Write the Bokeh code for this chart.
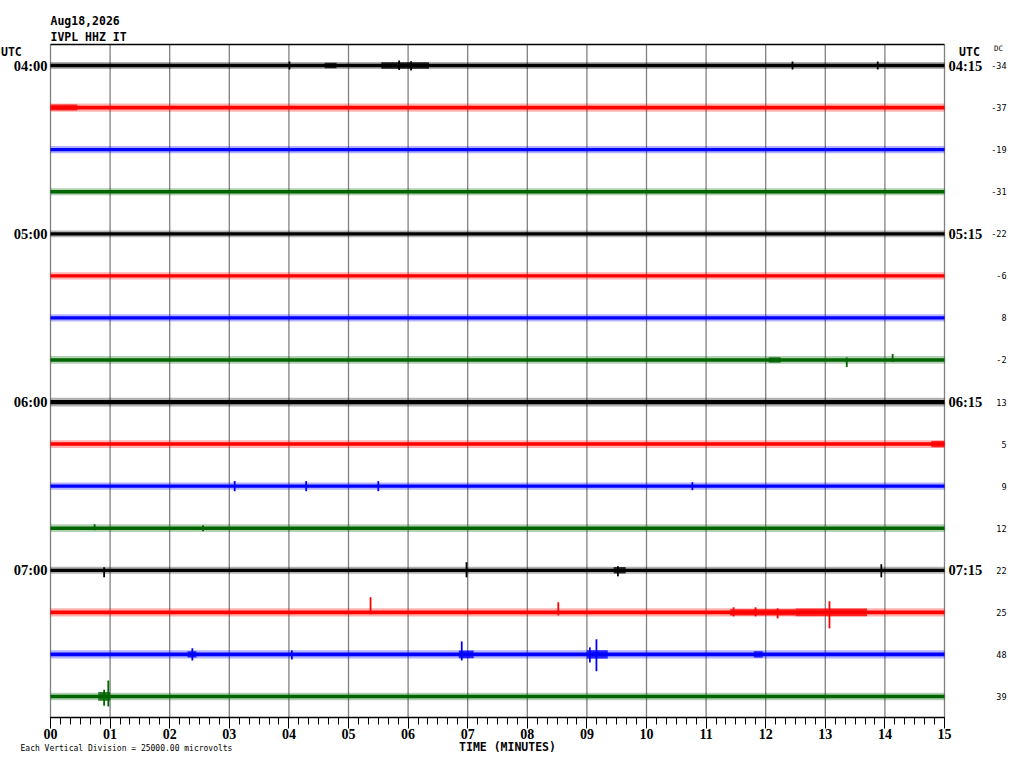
from bokeh.plotting import figure
from bokeh.models import SingleIntervalTicker, LinearAxis, Range1d, ColumnDataSource
from bokeh.core.properties import value
from bokeh.embed import file_html
from bokeh.resources import INLINE

# ---------------- data ----------------
TITLE_DATE = "Aug18,2026"
TITLE_STATION = "IVPL HHZ IT"
TRACE_COLORS = ["#000000", "#ff0000", "#0000ff", "#006400"]
LEFT_LABELS = ["04:00", "05:00", "06:00", "07:00"]
RIGHT_LABELS = ["04:15", "05:15", "06:15", "07:15"]
DC_VALUES = [-34, -37, -19, -31, -22, -6, 8, -2, 13, 5, 9, 12, 22, 25, 48, 39]
TICK_LABELS = ["00", "01", "02", "03", "04", "05", "06", "07",
               "08", "09", "10", "11", "12", "13", "14", "15"]
MINUTES_PER_LINE = 15
UV_PER_DIV = 25000.0
SCALE_NOTE = "Each Vertical Division = 25000.00 microvolts"
X_TITLE = "TIME (MINUTES)"

# background noise of each trace (microvolts): solid core and typical peaks
NOISE_UV = [1000, 1100, 1000, 1000, 950, 1000, 1000, 1050,
            1250, 1050, 1000, 1050, 950, 1100, 1100, 1000]
NOISE_PEAK_UV = [2100, 2400, 2100, 2100, 2000, 2100, 2100, 2300,
                 2600, 2300, 2100, 2300, 2100, 2400, 2400, 2200]

# bursts of stronger shaking: trace, start minute, end minute, half-amplitude (uV)
BURST_TRACE = [0, 0, 1, 9, 12, 13, 13, 14, 14, 14, 14, 15, 7]
BURST_T0 = [5.55, 4.60, 0.00, 14.78, 9.45, 11.40, 12.50, 2.30, 6.85, 9.00, 11.80, 0.80, 12.05]
BURST_T1 = [6.35, 4.80, 0.45, 15.00, 9.65, 12.50, 13.70, 2.45, 7.10, 9.35, 11.95, 1.00, 12.25]
BURST_UV = [1900, 1600, 1800, 1900, 1900, 1900, 2300, 1900, 2300, 2500, 1900, 2600, 1600]

# isolated spikes: trace, minute, upward and downward excursion (uV)
SPIKE_TRACE = [12, 12, 12, 12, 13, 13, 13, 14, 14, 14, 15, 7, 7, 10, 10, 10, 10, 11, 11,
               0, 0, 0, 14, 13, 13, 13, 0, 0, 14, 15]
SPIKE_T = [6.98, 13.94, 9.52, 0.90, 5.37, 8.52, 13.07, 6.90, 9.16, 2.38, 0.97, 13.36, 14.13,
           3.09, 4.29, 5.50, 10.77, 0.74, 2.56, 4.01, 12.45, 13.88, 4.05, 11.46, 11.83, 12.20,
           5.85, 6.05, 9.05, 0.90]
SPIKE_UP_UV = [4800, 3600, 2400, 1800, 9000, 6000, 6600, 7700, 9000, 3600, 9500, 1500, 3600,
               3000, 3000, 3000, 2400, 2400, 1800, 2400, 2400, 2400, 2400, 3000, 3000, 2400,
               3000, 2600, 4200, 4000]
SPIKE_DOWN_UV = [4200, 4200, 3600, 4200, 1200, 1800, 9500, 3600, 10000, 3600, 6000, 4200, 1200,
                 3000, 3000, 3000, 2400, 1200, 1800, 2400, 2400, 2400, 3000, 2400, 2400, 3600,
                 2600, 3000, 4800, 5500]

N_TRACES = len(DC_VALUES)


def center(i):
    return N_TRACES - 0.5 - i


def color(i):
    return TRACE_COLORS[i % len(TRACE_COLORS)]


# ---------------- figure ----------------
# the frame covers the whole canvas; 1 minute = 59.6 px, 1 trace row = 42.06 px
PX_X = MINUTES_PER_LINE / 894.0
PX_Y = N_TRACES / 673.0
W, H = 1008, 752
LEFT_PAD, TOP_PAD = 50, 44          # canvas pixels left of / above the trace area
x0 = -LEFT_PAD * PX_X
y1 = N_TRACES + TOP_PAD * PX_Y
p = figure(width=W, height=H, output_backend="svg", toolbar_location=None,
           x_range=Range1d(x0, x0 + W * PX_X), y_range=Range1d(y1 - H * PX_Y, y1),
           x_axis_location=None, y_axis_location=None,
           min_border=0, min_border_left=0, min_border_right=0,
           min_border_top=0, min_border_bottom=0)
p.outline_line_color = None
p.background_fill_color = "white"
p.border_fill_color = "white"
p.grid.visible = False

ax = LinearAxis(fixed_location=0, bounds=(0, MINUTES_PER_LINE),
                ticker=SingleIntervalTicker(interval=1, num_minor_ticks=6))
ax.major_label_overrides = {i: TICK_LABELS[i] for i in range(len(TICK_LABELS))}
ax.axis_line_color = "black"
ax.axis_line_width = 1.5
ax.major_tick_line_color = "black"
ax.minor_tick_line_color = "black"
ax.major_tick_out = 11
ax.major_tick_in = 0
ax.minor_tick_out = 7
ax.minor_tick_in = 0
ax.major_label_standoff = 0
ax.major_label_text_font = "Liberation Serif"
ax.major_label_text_font_style = "bold"
ax.major_label_text_font_size = "14px"
ax.major_label_text_color = "black"
p.add_layout(ax, "below")

# vertical minute lines and the top border
minutes = list(range(len(TICK_LABELS)))
p.segment(x0=minutes, y0=[0] * len(minutes), x1=minutes, y1=[N_TRACES] * len(minutes),
          line_color="#808080", line_width=1.3)
p.segment(x0=[0], y0=[N_TRACES], x1=[MINUTES_PER_LINE], y1=[N_TRACES],
          line_color="black", line_width=1.5)

rows = list(range(N_TRACES))
# outer (peak) noise envelope, drawn light, then the solid core
peak = ColumnDataSource(dict(
    left=[0] * N_TRACES, right=[MINUTES_PER_LINE] * N_TRACES,
    bottom=[center(i) - NOISE_PEAK_UV[i] / UV_PER_DIV for i in rows],
    top=[center(i) + NOISE_PEAK_UV[i] / UV_PER_DIV for i in rows],
    color=[color(i) for i in rows],
))
p.quad(left="left", right="right", bottom="bottom", top="top", color="color",
       line_width=0, alpha=0.3, source=peak)
core = ColumnDataSource(dict(
    left=[0] * N_TRACES, right=[MINUTES_PER_LINE] * N_TRACES,
    bottom=[center(i) - NOISE_UV[i] / UV_PER_DIV for i in rows],
    top=[center(i) + NOISE_UV[i] / UV_PER_DIV for i in rows],
    color=[color(i) for i in rows],
))
p.quad(left="left", right="right", bottom="bottom", top="top", color="color",
       line_width=0, source=core)

burst = ColumnDataSource(dict(
    left=BURST_T0, right=BURST_T1,
    bottom=[center(t) - a / UV_PER_DIV for t, a in zip(BURST_TRACE, BURST_UV)],
    top=[center(t) + a / UV_PER_DIV for t, a in zip(BURST_TRACE, BURST_UV)],
    color=[color(t) for t in BURST_TRACE],
))
p.quad(left="left", right="right", bottom="bottom", top="top", color="color",
       line_width=0, alpha=0.8, source=burst)

spike = ColumnDataSource(dict(
    x=SPIKE_T,
    y0=[center(t) - d / UV_PER_DIV for t, d in zip(SPIKE_TRACE, SPIKE_DOWN_UV)],
    y1=[center(t) + u / UV_PER_DIV for t, u in zip(SPIKE_TRACE, SPIKE_UP_UV)],
    color=[color(t) for t in SPIKE_TRACE],
))
p.segment(x0="x", y0="y0", x1="x", y1="y1", color="color", line_width=1.8, source=spike)

# ---------------- texts ----------------
mono = "DejaVu Sans Mono"
serif = "Liberation Serif"


def texts(xs, ys, strs, font, size, style="normal", align="left"):
    src = ColumnDataSource(dict(x=xs, y=ys, text=strs))
    p.text(x="x", y="y", text="text", source=src, text_font=value(font),
           text_font_size=value(size), text_font_style=style, text_align=align,
           text_baseline="middle", text_color="black")


texts([0, 0], [N_TRACES + 24 * PX_Y, N_TRACES + 8 * PX_Y],
      [TITLE_DATE, TITLE_STATION], mono, "11.5px", "bold")
texts([x0 + 0.5 * PX_X], [N_TRACES - 7 * PX_Y], ["UTC"], mono, "11.5px", "bold")
texts([MINUTES_PER_LINE + 25 * PX_X], [N_TRACES - 7 * PX_Y], ["UTC"], mono, "11.5px",
      "bold", "center")
texts([MINUTES_PER_LINE + 54 * PX_X], [N_TRACES - 4 * PX_Y], ["DC"], mono, "7.5px",
      "normal", "center")

hour_rows = [4 * k for k in range(len(LEFT_LABELS))]
texts([-3 * PX_X] * len(hour_rows), [center(i) for i in hour_rows], LEFT_LABELS,
      serif, "14.5px", "bold", "right")
texts([MINUTES_PER_LINE + 4 * PX_X] * len(hour_rows), [center(i) for i in hour_rows],
      RIGHT_LABELS, serif, "14.5px", "bold")

texts([MINUTES_PER_LINE + 62 * PX_X] * N_TRACES, [center(i) for i in rows],
      [str(v) for v in DC_VALUES], mono, "8.5px", "normal", "right")

texts([MINUTES_PER_LINE / 2 + 10 * PX_X], [-29 * PX_Y], [X_TITLE], mono, "11.5px",
      "bold", "center")
texts([-30 * PX_X], [-31 * PX_Y], [SCALE_NOTE], mono, "8px")

open("out.html", "w").write(file_html(p, INLINE))
